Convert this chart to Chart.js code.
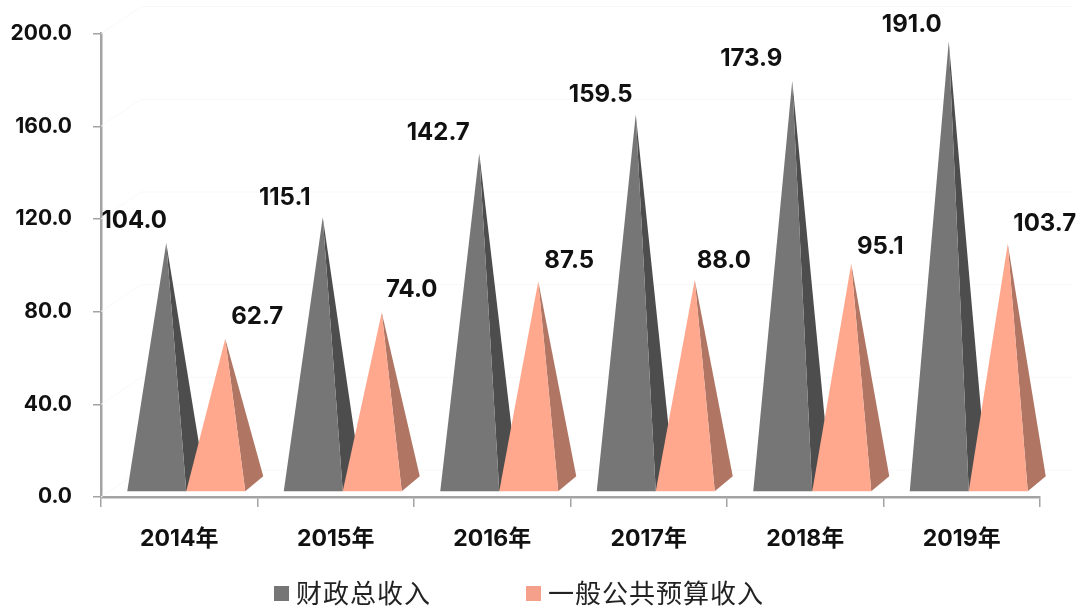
<!DOCTYPE html>
<html>
<head>
<meta charset="utf-8">
<style>
html, body { margin: 0; padding: 0; background: #fff; }
#wrap { width: 1080px; height: 606px; }
</style>
<script src="https://cdn.jsdelivr.net/npm/chart.js@4/dist/chart.umd.min.js"></script>
</head>
<body>
<div id="wrap"><canvas id="pyramidChart" width="1080" height="606"></canvas></div>
<script>
const categories = ['2014年', '2015年', '2016年', '2017年', '2018年', '2019年'];
const seriesNames = ['财政总收入', '一般公共预算收入'];
const totalRevenue = [104.0, 115.1, 142.7, 159.5, 173.9, 191.0];
const budgetRevenue = [62.7, 74.0, 87.5, 88.0, 95.1, 103.7];
const yTicks = [0, 40, 80, 120, 160, 200];

const textFont = 'Inter, "Noto Sans CJK SC", sans-serif';
const axisColor = '#a3a3a3';

// fake 3D look of the original, all offsets in px from the bar element box
const depth = { shiftX: 7, baseUp: 5, backX: 18, backUp: 20, apexX: 9.5, apexUp: 13 };

class PyramidElement extends Chart.BarElement {
    draw(ctx) {
        const { x, y, base, width } = this.getProps(['x', 'y', 'base', 'width']);
        const left = x - width / 2 + depth.shiftX;
        const right = x + width / 2 + depth.shiftX;
        const bottom = base - depth.baseUp;
        const apexX = x + depth.shiftX + depth.apexX;
        const apexY = y - depth.apexUp;

        ctx.save();
        ctx.fillStyle = this.options.borderColor;
        ctx.beginPath();
        ctx.moveTo(right, bottom);
        ctx.lineTo(right + depth.backX, base - depth.backUp);
        ctx.lineTo(apexX, apexY);
        ctx.closePath();
        ctx.fill();

        ctx.fillStyle = this.options.backgroundColor;
        ctx.beginPath();
        ctx.moveTo(left, bottom);
        ctx.lineTo(right, bottom);
        ctx.lineTo(apexX, apexY);
        ctx.closePath();
        ctx.fill();
        ctx.restore();
    }
}
PyramidElement.id = 'pyramid';
PyramidElement.defaults = Chart.BarElement.defaults;

// drawing happens in pyramidLayers, the second series has to end up on top
class PyramidController extends Chart.BarController {
    draw() {}
}
PyramidController.id = 'pyramid';
PyramidController.defaults = Object.assign({}, Chart.BarController.defaults, { dataElementType: 'pyramid' });
PyramidController.overrides = Chart.BarController.overrides;

Chart.register(PyramidElement, PyramidController);

// very faint back wall lines
const wallLines = {
    id: 'wallLines',
    beforeDatasetsDraw(chart) {
        const { ctx, scales } = chart;
        ctx.save();
        ctx.strokeStyle = '#f8f8f8';
        ctx.lineWidth = 1;
        yTicks.forEach(v => {
            const py = scales.y.getPixelForValue(v);
            ctx.beginPath();
            ctx.moveTo(scales.x.left, py);
            ctx.lineTo(scales.x.left + 40, py - 27);
            ctx.lineTo(scales.x.right + 33, py - 27);
            ctx.stroke();
        });
        ctx.restore();
    }
};

const pyramidLayers = {
    id: 'pyramidLayers',
    afterDatasetsDraw(chart) {
        chart.data.datasets.forEach((ds, i) => {
            chart.getDatasetMeta(i).data.forEach(bar => bar.draw(chart.ctx));
        });
    }
};

// the value labels were placed by hand in the original
const labelNudges = [
    [[-32, -22], [-38, -20], [-41, -21], [-35, -20], [-41, -22], [-37, -17]],
    [[32, -22], [30, -23], [31, -20], [29, -19], [29, -17], [37, -20]]
];
const valueLabels = {
    id: 'valueLabels',
    afterDatasetsDraw(chart) {
        const { ctx } = chart;
        ctx.save();
        ctx.font = '700 24px ' + textFont;
        ctx.fillStyle = '#111';
        ctx.textAlign = 'center';
        ctx.textBaseline = 'middle';
        chart.data.datasets.forEach((ds, i) => {
            chart.getDatasetMeta(i).data.forEach((bar, j) => {
                const apexX = bar.x + depth.shiftX + depth.apexX;
                const [dx, dy] = labelNudges[i][j];
                ctx.fillText(ds.data[j].toFixed(1), apexX + dx, bar.y - depth.apexUp + dy);
            });
        });
        ctx.restore();
    }
};

// built in legend can't do the wide gap without blowing up its height
const legendStarts = [274, 526];
const bottomLegend = {
    id: 'bottomLegend',
    afterDraw(chart) {
        const { ctx } = chart;
        ctx.save();
        ctx.font = '26px "Noto Sans CJK SC", sans-serif';
        ctx.letterSpacing = '1px';
        ctx.textBaseline = 'middle';
        chart.data.datasets.forEach((ds, i) => {
            ctx.fillStyle = ds.backgroundColor === '#ffa88e' ? '#f5a08a' : ds.backgroundColor;
            ctx.fillRect(legendStarts[i], 586, 15, 15);
            ctx.fillStyle = '#222';
            ctx.fillText(ds.label, legendStarts[i] + 22, 593);
        });
        ctx.restore();
    }
};

new Chart(document.getElementById('pyramidChart'), {
    type: 'pyramid',
    data: {
        labels: categories,
        datasets: [
            { label: seriesNames[0], data: totalRevenue, backgroundColor: '#767676', borderColor: '#4d4d4d' },
            { label: seriesNames[1], data: budgetRevenue, backgroundColor: '#ffa88e', borderColor: '#b07663' }
        ]
    },
    plugins: [wallLines, pyramidLayers, valueLabels, bottomLegend],
    options: {
        responsive: false,
        animation: false,
        devicePixelRatio: 1,
        categoryPercentage: 0.754,
        barPercentage: 1,
        layout: { padding: { top: 33, right: 40, bottom: 0, left: 0 } },
        plugins: {
            tooltip: { enabled: false },
            legend: { display: false }
        },
        scales: {
            x: {
                afterFit: scale => { scale.height = 109; },
                border: { color: axisColor, width: 2.5 },
                grid: { drawOnChartArea: false, color: axisColor, tickLength: 10, lineWidth: 1.5 },
                ticks: {
                    color: '#111',
                    padding: 18,
                    maxRotation: 0,
                    font: { family: textFont, size: 23, weight: '700' }
                }
            },
            y: {
                min: 0,
                max: 200,
                afterFit: scale => { scale.width = 101; },
                afterBuildTicks: scale => { scale.ticks = yTicks.map(v => ({ value: v })); },
                border: { color: axisColor, width: 2.5 },
                grid: { drawOnChartArea: false, color: axisColor, tickLength: 8, lineWidth: 1.5 },
                ticks: {
                    color: '#111',
                    padding: 21,
                    font: { family: textFont, size: 21, weight: '700' },
                    callback: v => v.toFixed(1)
                }
            }
        }
    }
});
</script>
</body>
</html>
